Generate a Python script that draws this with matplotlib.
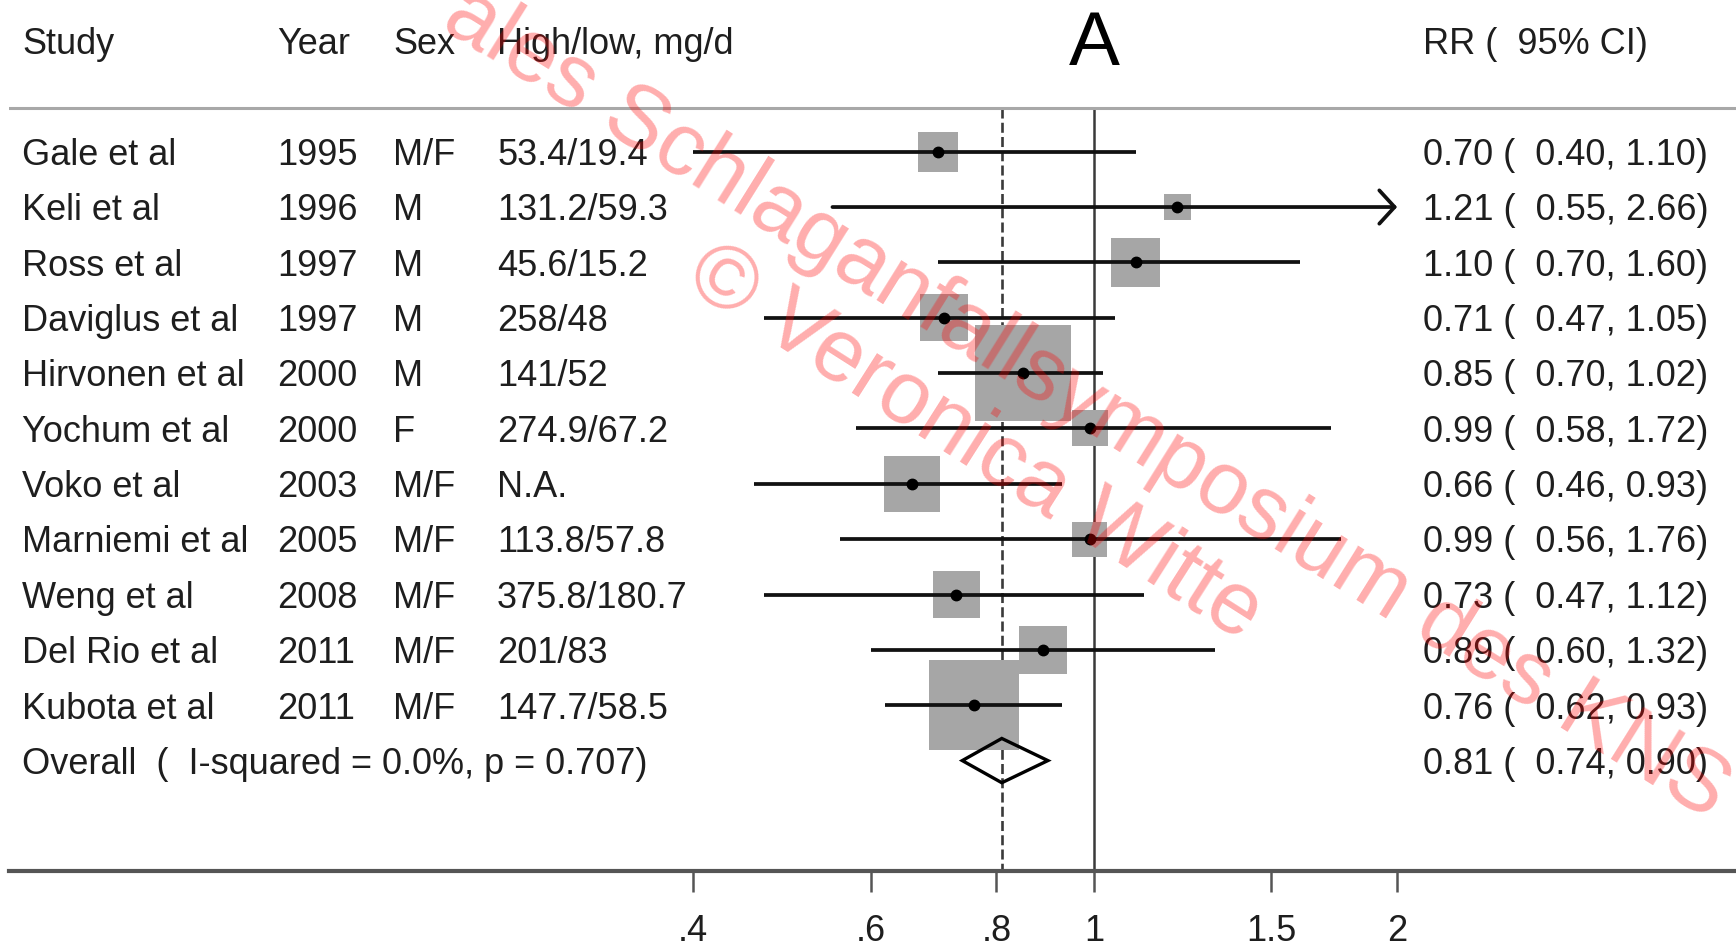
import matplotlib
matplotlib.use("Agg")
import matplotlib.pyplot as plt
from matplotlib.patches import Polygon
from matplotlib.ticker import NullLocator
from matplotlib.transforms import blended_transform_factory

plt.rcParams["font.family"] = ["Liberation Sans", "DejaVu Sans"]

# --- data ---
studies = ["Gale et al", "Keli et al", "Ross et al", "Daviglus et al",
           "Hirvonen et al", "Yochum et al", "Voko et al", "Marniemi et al",
           "Weng et al", "Del Rio et al", "Kubota et al"]
years = ["1995", "1996", "1997", "1997", "2000", "2000", "2003", "2005",
         "2008", "2011", "2011"]
sexes = ["M/F", "M", "M", "M", "M", "F", "M/F", "M/F", "M/F", "M/F", "M/F"]
intake = ["53.4/19.4", "131.2/59.3", "45.6/15.2", "258/48", "141/52",
          "274.9/67.2", "N.A.", "113.8/57.8", "375.8/180.7", "201/83",
          "147.7/58.5"]
rr = [0.70, 1.21, 1.10, 0.71, 0.85, 0.99, 0.66, 0.99, 0.73, 0.89, 0.76]
ci_lo = [0.40, 0.55, 0.70, 0.47, 0.70, 0.58, 0.46, 0.56, 0.47, 0.60, 0.62]
ci_hi = [1.10, 2.66, 1.60, 1.05, 1.02, 1.72, 0.93, 1.76, 1.12, 1.32, 0.93]
weights = [4.64, 2.04, 6.82, 6.54, 26.72, 3.76, 9.09, 3.55, 6.27, 6.82, 23.75]  # % (box area)

overall_label = "Overall  (  I-squared = 0.0%, p = 0.707)"
overall = (0.81, 0.74, 0.90)

headers = ["Study", "Year", "Sex", "High/low, mg/d"]
rr_header = "RR (  95% CI)"
panel = "A"
xticks = [0.4, 0.6, 0.8, 1, 1.5, 2]
xtick_labels = [".4", ".6", ".8", "1", "1.5", "2"]

# --- layout (pixels of the 1736x951 canvas) ---
W, H = 1736, 951
TXT = "#1e1e1e"
FS = 26
col_x = [22, 277, 393, 497]
rr_x = 1423
base = 0.24  # baseline offset below row centre, in rows

fig = plt.figure(figsize=(W / 100, H / 100), dpi=100)
ax = fig.add_axes([9 / W, 79.7 / H, 1 - 9 / W, 1 - 79.7 / H])
ax.set_xscale("log")
ax.set_xlim(0.0837, 4.34)
ax.set_ylim(13.0, -2.74)
for s in ("left", "right", "top"):
    ax.spines[s].set_visible(False)
ax.spines["bottom"].set_color("#555555")
ax.spines["bottom"].set_linewidth(3)
ax.set_yticks([])
ax.xaxis.set_minor_locator(NullLocator())
ax.set_xticks(xticks)
ax.set_xticklabels(xtick_labels)
ax.tick_params(axis="x", length=15, width=1.8, color="#555555", pad=16,
               labelsize=FS, labelcolor=TXT)

tr = blended_transform_factory(fig.transFigure, ax.transData)

# header
for x, h in zip(col_x, headers):
    fig.text(x / W, -2 + base, h, transform=tr, fontsize=FS, color=TXT,
             va="baseline")
fig.text(rr_x / W, -2 + base, rr_header, transform=tr, fontsize=FS,
         color=TXT, va="baseline")
ax.text(1, -1.57, panel, fontsize=55, color="black", ha="center",
        va="baseline")
ax.axhline(-0.78, color="#a8a8a8", lw=2.2)

# reference lines
n = len(studies)
ax.vlines(1, -0.78, 13, color="#3a3a3a", lw=1.8, zorder=1)
ax.vlines(overall[0], -0.78, 13, color="#3a3a3a", lw=1.9,
          linestyle=(0, (3.8, 1.6)), zorder=1)

# study rows
xmax = xticks[-1]
for i in range(n):
    y = i + base
    for x, s in zip(col_x, [studies[i], years[i], sexes[i], intake[i]]):
        fig.text(x / W, y, s, transform=tr, fontsize=FS, color=TXT,
                 va="baseline")
    fig.text(rr_x / W, y, f"{rr[i]:.2f} (  {ci_lo[i]:.2f}, {ci_hi[i]:.2f})",
             transform=tr, fontsize=FS, color=TXT, va="baseline")

ax.scatter(rr, range(n), s=[178.8 * w for w in weights], marker="s",
           color="#a6a6a6", linewidths=0, zorder=2)
for i in range(n):
    if ci_hi[i] > xmax:
        ax.annotate("", xy=(xmax, i), xytext=(ci_lo[i], i),
                    arrowprops=dict(arrowstyle="->,head_length=0.55,head_width=0.6",
                                    lw=2.7, color="#111111", shrinkA=0,
                                    shrinkB=0, mutation_scale=20), zorder=3)
    else:
        ax.plot([ci_lo[i], ci_hi[i]], [i, i], color="#111111", lw=2.7,
                solid_capstyle="butt", zorder=3)
ax.plot(rr, range(n), "o", color="black", ms=7.5, zorder=4)

# overall
fig.text(col_x[0] / W, n + base, overall_label, transform=tr, fontsize=FS,
         color=TXT, va="baseline")
fig.text(rr_x / W, n + base,
         f"{overall[0]:.2f} (  {overall[1]:.2f}, {overall[2]:.2f})",
         transform=tr, fontsize=FS, color=TXT, va="baseline")
ax.add_patch(Polygon([(overall[1], n), (overall[0], n - 0.4),
                      (overall[2], n), (overall[0], n + 0.4)],
                     closed=True, facecolor="none", edgecolor="black",
                     lw=2.4, zorder=5))

# watermark
fig.text(451 / W, 1 - 7 / H, "ales Schlaganfallsymposium des KNS",
         rotation=-32, rotation_mode="anchor", ha="left", va="center",
         fontsize=64, color="red", alpha=0.32, zorder=10)
fig.text(975 / W, 1 - 444 / H, "\u00a9 Veronica Witte",
         rotation=-32.5, rotation_mode="anchor", ha="center", va="center",
         fontsize=64, color="red", alpha=0.32, zorder=10)

fig.savefig("out.png", dpi=100)
